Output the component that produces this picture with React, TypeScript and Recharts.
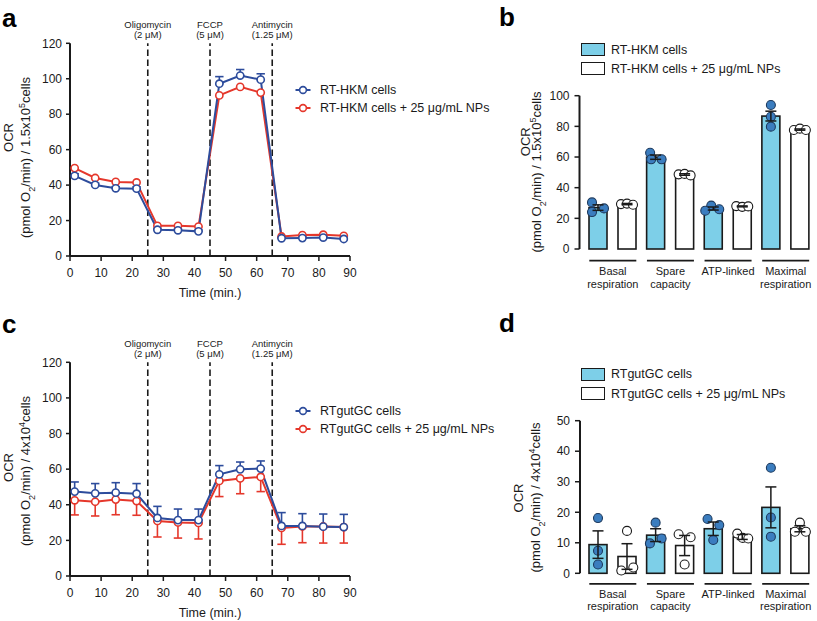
import React from 'react';
import { LineChart, Line, XAxis, YAxis, ReferenceLine, ErrorBar, Legend, BarChart, Bar } from 'recharts';

const FONT = '"Liberation Sans", Arial, Helvetica, sans-serif';
const LETTER_FONT = '"Liberation Sans", Arial, sans-serif';
const BLUE = '#2d4c9c';
const RED = '#e5372b';
const CYAN = '#7dcfe8';
const DOT_BLUE = '#3b7dbf';
const DOT_BLUE_EDGE = '#1d3a5e';
const INK = '#1a1a1a';

// ---------------- data ----------------
const timePoints = [1.5, 8.1, 14.7, 21.4, 28.1, 34.7, 41.3, 48.0, 54.7, 61.3, 68.0, 74.7, 81.4, 88.0];
const timeTicks = [0, 10, 20, 30, 40, 50, 60, 70, 80, 90];
const ocrTicks = [0, 20, 40, 60, 80, 100, 120];
const injectionTimes = [25, 45, 65];
const injectionNames = ['Oligomycin', 'FCCP', 'Antimycin'];
const injectionDoses = ['(2 \u03bcM)', '(5 \u03bcM)', '(1.25 \u03bcM)'];

const hkmLabels = ['RT-HKM cells', 'RT-HKM cells + 25 \u03bcg/mL NPs'];
const hkmCtrl = [45.2, 40.1, 38.2, 38.0, 14.8, 14.5, 13.9, 97.2, 101.8, 99.5, 10.0, 10.1, 10.4, 9.6];
const hkmCtrlSem = [1.2, 1.0, 0.9, 1.0, 0.8, 0.8, 0.8, 4.0, 3.4, 3.3, 0.6, 0.6, 0.7, 0.6];
const hkmNp = [49.6, 44.0, 41.8, 41.5, 17.0, 17.0, 16.6, 90.6, 95.4, 92.2, 11.0, 11.8, 12.0, 11.4];

const gutLabels = ['RTgutGC cells', 'RTgutGC cells + 25 \u03bcg/mL NPs'];
const gutCtrl = [47.4, 46.4, 46.8, 46.2, 32.6, 31.4, 31.4, 57.1, 59.9, 60.3, 28.1, 28.1, 27.7, 27.5];
const gutCtrlSem = [5.4, 5.5, 5.6, 5.7, 6.5, 6.2, 6.2, 4.9, 4.1, 4.3, 7.5, 6.9, 7.1, 7.1];
const gutNp = [42.5, 41.7, 42.9, 42.1, 30.9, 30.1, 29.8, 53.4, 54.8, 55.6, 27.0, 27.8, 27.8, 27.5];
const gutNpSem = [8.2, 8.0, 8.5, 8.0, 9.0, 8.8, 9.0, 8.8, 8.6, 8.2, 9.2, 9.1, 9.3, 9.0];

const paramLines = [['Basal', 'respiration'], ['Spare', 'capacity'], ['ATP-linked'], ['Maximal', 'respiration']];
const barTicksB = [0, 20, 40, 60, 80, 100];
const barTicksD = [0, 10, 20, 30, 40, 50];

const hkmBarCtrl = [27.0, 59.9, 26.4, 86.7];
const hkmBarCtrlSem = [1.8, 1.4, 1.0, 3.2];
const hkmBarNp = [29.3, 48.6, 27.8, 77.9];
const hkmBarNpSem = [0.4, 0.5, 0.3, 0.4];
const hkmRepCtrl = [[30.4, 24.1, 26.5], [62.8, 58.5, 58.5], [28.3, 25.0, 25.9], [93.9, 86.3, 79.8]];
const hkmRepNp = [[29.3, 29.6, 28.9], [48.7, 49.0, 48.0], [28.0, 27.5, 27.8], [77.6, 78.5, 77.6]];

const gutBarCtrl = [9.4, 12.5, 14.6, 21.6];
const gutBarCtrlSem = [4.5, 2.1, 2.2, 6.7];
const gutBarNp = [5.5, 9.1, 11.9, 14.6];
const gutBarNpSem = [4.2, 3.3, 0.8, 1.0];
const gutRepCtrl = [[18.1, 7.4, 2.9], [16.6, 9.8, 11.4], [17.8, 15.8, 10.9], [34.6, 18.3, 12.0]];
const gutRepNp = [[13.9, 0.9, 1.9], [12.8, 11.8, 2.9], [13.0, 11.6, 11.4], [16.6, 13.6, 13.6]];

// ---------------- style (horizontal jitter of replicate dots, px) ----------------
const jitterB_ctrl = [[-6, -6, 6], [-5.5, -4.5, 6], [-2, -8, 6], [0, 0, 0]];
const jitterB_np = [[-6, 0, 6], [-6, 0, 6], [-6, 0, 6], [-6, 0, 6]];
const jitterD_ctrl = [[0, 0, 0], [0, -5.7, 6], [-5.7, 6, 0], [0, 0, 0]];
const jitterD_np = [[0, -5.7, 6.3], [-6, 6, 0], [-5, 0.5, 6], [0, -5, 6]];

// ---------------- derived tables ----------------
const lineDataA = timePoints.map((t, i) => ({
  t,
  ctrl: hkmCtrl[i],
  ctrlErr: [0, hkmCtrlSem[i]],
  np: hkmNp[i],
}));
const lineDataC = timePoints.map((t, i) => ({
  t,
  ctrl: gutCtrl[i],
  ctrlErr: [0, gutCtrlSem[i]],
  np: gutNp[i],
  npErr: [gutNpSem[i], 0],
}));
const catNames = paramLines.map((l) => l.join(' '));
const barDataB = catNames.map((name, i) => ({
  name,
  ctrl: hkmBarCtrl[i],
  ctrlSem: hkmBarCtrlSem[i],
  np: hkmBarNp[i],
  npSem: hkmBarNpSem[i],
}));
const barDataD = catNames.map((name, i) => ({
  name,
  ctrl: gutBarCtrl[i],
  ctrlSem: gutBarCtrlSem[i],
  np: gutBarNp[i],
  npSem: gutBarNpSem[i],
}));

// ---------------- pieces ----------------
const YTitle = (props: any) => {
  const { ox, oy, lx, ly, mant, exp } = props;
  return (
    <g fontFamily={FONT} fill={INK} fontSize={13}>
      <text transform={`translate(${ox},${oy}) rotate(-90)`} textAnchor="middle">OCR</text>
      <text transform={`translate(${lx},${ly}) rotate(-90)`} textAnchor="middle">
        (pmol O<tspan fontSize={9} baselineShift="sub">2</tspan>/min) / {mant}
        <tspan fontSize={9} baselineShift="super">{exp}</tspan>cells
      </text>
    </g>
  );
};

const InjectionLabel = (props: any) => {
  const vb = props.viewBox || {};
  if (vb.x == null) return null;
  return (
    <g fontFamily={FONT} fontSize={9.5} fill={INK}>
      <text x={vb.x} y={vb.y - 15.5} textAnchor="middle">{props.name}</text>
      <text x={vb.x} y={vb.y - 5} textAnchor="middle">{props.dose}</text>
    </g>
  );
};

const LineLegend = ({ labels, rowH }: any) => (
  <div style={{ fontFamily: FONT, fontSize: 12.5, color: INK }}>
    {labels.map((lab: string, i: number) => {
      const c = i === 0 ? BLUE : RED;
      return (
        <div key={i} style={{ display: 'flex', alignItems: 'center', height: rowH }}>
          <svg width={17} height={10} style={{ display: 'block' }}>
            <line x1={0.5} y1={5} x2={15.5} y2={5} stroke={c} strokeWidth={2} />
            <circle cx={8} cy={5} r={3.4} fill="#fff" stroke={c} strokeWidth={1.6} />
          </svg>
          <span style={{ marginLeft: 8.5, whiteSpace: 'nowrap' }}>{lab}</span>
        </div>
      );
    })}
  </div>
);

const BoxLegend = ({ labels, rowH }: any) => (
  <div style={{ fontFamily: FONT, fontSize: 12.5, color: INK }}>
    {labels.map((lab: string, i: number) => (
      <div key={i} style={{ display: 'flex', alignItems: 'center', height: rowH }}>
        <div
          style={{
            width: 24.3,
            height: 13,
            boxSizing: 'border-box',
            border: `1.6px solid ${INK}`,
            background: i === 0 ? CYAN : '#fff',
          }}
        />
        <span style={{ marginLeft: 6, whiteSpace: 'nowrap' }}>{lab}</span>
      </div>
    ))}
  </div>
);

const makeBarShape = (means: number[], reps: number[][], jitter: number[][], fill: string, dotFill: string, dotEdge: string) =>
  (props: any) => {
    const { x, y, width, height, payload } = props;
    const idx = catNames.indexOf(payload.name);
    const ppu = height / means[idx];
    const base = y + height;
    return (
      <g>
        <rect x={x} y={y} width={width} height={height} fill={fill} stroke={INK} strokeWidth={1.6} />
        {reps[idx].map((r, k) => (
          <circle
            key={k}
            cx={x + width / 2 + jitter[idx][k]}
            cy={base - r * ppu}
            r={4.5}
            fill={dotFill}
            stroke={dotEdge}
            strokeWidth={1.1}
          />
        ))}
      </g>
    );
  };

const CategoryTick = (props: any) => {
  const { x, y, payload, rule, base, lh } = props;
  const lines = paramLines[catNames.indexOf(payload.value)] || [];
  return (
    <g>
      <line x1={x - 23.5} x2={x + 23.5} y1={y + rule} y2={y + rule} stroke={INK} strokeWidth={1.8} />
      {lines.map((l: string, k: number) => (
        <text key={k} x={x} y={y + base + k * lh} textAnchor="middle" fontFamily={FONT} fontSize={11} fill={INK}>
          {l}
        </text>
      ))}
    </g>
  );
};

const axisTick = { fontSize: 12, fill: INK, fontFamily: FONT };

function TimeCourse(p: any) {
  const { left, top, height, marginTop, xAxisHeight, data, labels, withNpErr, title, legendPos, legendRow } = p;
  return (
    <div style={{ position: 'absolute', left, top }}>
      <LineChart
        width={500}
        height={height}
        data={data}
        margin={{ top: marginTop, right: 150, bottom: 0, left: 0 }}
      >
        <XAxis
          dataKey="t"
          type="number"
          domain={[0, 90]}
          ticks={timeTicks}
          interval={0}
          height={xAxisHeight}
          tick={axisTick}
          tickSize={5}
          tickMargin={7}
          axisLine={{ stroke: INK, strokeWidth: 2 }}
          tickLine={{ stroke: INK, strokeWidth: 1.5 }}
          label={{ value: 'Time (min.)', position: 'insideTop', offset: 32, fontSize: 12.5, fill: INK, fontFamily: FONT }}
        />
        <YAxis
          type="number"
          domain={[0, 120]}
          ticks={ocrTicks}
          interval={0}
          width={70}
          tick={axisTick}
          tickSize={4}
          tickMargin={4}
          axisLine={{ stroke: INK, strokeWidth: 2 }}
          tickLine={{ stroke: INK, strokeWidth: 1.5 }}
          label={<YTitle {...title} />}
        />
        {injectionTimes.map((t, i) => (
          <ReferenceLine
            key={t}
            x={t}
            stroke={INK}
            strokeWidth={1.6}
            strokeDasharray="6.5 3.5"
            label={<InjectionLabel name={injectionNames[i]} dose={injectionDoses[i]} />}
          />
        ))}
        <Line type="linear" dataKey="np" stroke={RED} strokeWidth={2} dot={false} activeDot={false} isAnimationActive={false} legendType="none">
          {withNpErr ? <ErrorBar dataKey="npErr" direction="y" width={4.2} stroke={RED} strokeWidth={1.6} /> : null}
        </Line>
        <Line type="linear" dataKey="ctrl" stroke={BLUE} strokeWidth={2} dot={false} activeDot={false} isAnimationActive={false} legendType="none">
          <ErrorBar dataKey="ctrlErr" direction="y" width={4.2} stroke={BLUE} strokeWidth={1.6} />
        </Line>
        <Line
          type="linear"
          dataKey="np"
          stroke="none"
          dot={{ r: 3.6, fill: '#fff', stroke: RED, strokeWidth: 1.6 }}
          activeDot={false}
          isAnimationActive={false}
          legendType="none"
        />
        <Line
          type="linear"
          dataKey="ctrl"
          stroke="none"
          dot={{ r: 3.6, fill: '#fff', stroke: BLUE, strokeWidth: 1.6 }}
          activeDot={false}
          isAnimationActive={false}
          legendType="none"
        />
        <Legend
          layout="vertical"
          align="center"
          verticalAlign="middle"
          wrapperStyle={{ left: legendPos[0], top: legendPos[1], width: 220, height: 40 }}
          content={() => <LineLegend labels={labels} rowH={legendRow} />}
        />
      </LineChart>
    </div>
  );
}

function ParamBars(p: any) {
  const { left, top, height, marginTop, xAxisHeight, axisW, pad, data, means, reps, jit, npMeans, npReps, npJit, yMax, ticks, title, labels, legendPos, legendRow, tickCfg } = p;
  return (
    <div style={{ position: 'absolute', left, top }}>
      <BarChart
        width={337}
        height={height}
        data={data}
        margin={{ top: marginTop, right: 2.5, bottom: 0, left: 0 }}
        barSize={18}
        barGap={11}
      >
        <XAxis
          dataKey="name"
          type="category"
          interval={0}
          height={xAxisHeight}
          axisLine={false}
          tickLine={false}
          tickSize={0}
          tickMargin={0}
          padding={{ left: pad, right: 0 }}
          tick={(tp: any) => <CategoryTick {...tp} {...tickCfg} />}
        />
        <YAxis
          type="number"
          domain={[0, yMax]}
          ticks={ticks}
          interval={0}
          width={axisW}
          tick={axisTick}
          tickSize={5}
          tickMargin={5}
          axisLine={{ stroke: INK, strokeWidth: 2 }}
          tickLine={{ stroke: INK, strokeWidth: 1.5 }}
          label={<YTitle {...title} />}
        />
        <Bar dataKey="ctrl" isAnimationActive={false} shape={makeBarShape(means, reps, jit, CYAN, DOT_BLUE, DOT_BLUE_EDGE)}>
          <ErrorBar dataKey="ctrlSem" direction="y" width={5.5} stroke={INK} strokeWidth={1.5} />
        </Bar>
        <Bar dataKey="np" isAnimationActive={false} shape={makeBarShape(npMeans, npReps, npJit, '#fff', '#fff', INK)}>
          <ErrorBar dataKey="npSem" direction="y" width={5.5} stroke={INK} strokeWidth={1.5} />
        </Bar>
        <Legend
          layout="vertical"
          align="center"
          verticalAlign="middle"
          wrapperStyle={{ left: legendPos[0], top: legendPos[1], width: 236, height: 40 }}
          content={() => <BoxLegend labels={labels} rowH={legendRow} />}
        />
      </BarChart>
    </div>
  );
}

export default function App() {
  return (
    <div style={{ position: 'absolute', left: 0, top: 0, width: 817, height: 621, background: '#fff', overflow: 'hidden' }}>
      <TimeCourse
        left={0}
        top={0}
        height={300}
        marginTop={43.3}
        xAxisHeight={44}
        data={lineDataA}
        labels={hkmLabels}
        withNpErr={false}
        title={{ ox: 13.2, oy: 137.5, lx: 29.7, ly: 157.5, mant: '1.5x10', exp: '5' }}
        legendPos={[294.5, 81]}
        legendRow={18.3}
      />
      <TimeCourse
        left={0}
        top={300}
        height={321}
        marginTop={62.3}
        xAxisHeight={45}
        data={lineDataC}
        labels={gutLabels}
        withNpErr={true}
        title={{ ox: 13.2, oy: 167.5, lx: 29.7, ly: 171, mant: '4x10', exp: '4' }}
        legendPos={[294.5, 101.7]}
        legendRow={18}
      />
      <ParamBars
        left={480}
        top={0}
        height={300}
        marginTop={95.7}
        xAxisHeight={51}
        axisW={99.5}
        pad={4.5}
        data={barDataB}
        means={hkmBarCtrl}
        reps={hkmRepCtrl}
        jit={jitterB_ctrl}
        npMeans={hkmBarNp}
        npReps={hkmRepNp}
        npJit={jitterB_np}
        yMax={100}
        ticks={barTicksB}
        title={{ ox: 49.7, oy: 141.7, lx: 61.3, ly: 172, mant: '1.5x10', exp: '5' }}
        labels={hkmLabels}
        legendPos={[100.7, 40.3]}
        legendRow={19}
        tickCfg={{ rule: 11.7, base: 26, lh: 12.5 }}
      />
      <ParamBars
        left={480}
        top={300}
        height={321}
        marginTop={120.7}
        xAxisHeight={47.7}
        axisW={100}
        pad={4}
        data={barDataD}
        means={gutBarCtrl}
        reps={gutRepCtrl}
        jit={jitterD_ctrl}
        npMeans={gutBarNp}
        npReps={gutRepNp}
        npJit={jitterD_np}
        yMax={50}
        ticks={barTicksD}
        title={{ ox: 42.7, oy: 198, lx: 59.7, ly: 197.5, mant: '4x10', exp: '4' }}
        labels={gutLabels}
        legendPos={[100.7, 64.7]}
        legendRow={19.5}
        tickCfg={{ rule: 10.5, base: 24.5, lh: 12.5 }}
      />
      <svg width={817} height={621} style={{ position: 'absolute', left: 0, top: 0, pointerEvents: 'none' }}>
        <g fontFamily={LETTER_FONT} fontWeight={700} fontSize={26} fill="#000">
          <text x={2} y={26.7}>a</text>
          <text x={499} y={25.5}>b</text>
          <text x={2} y={333.3}>c</text>
          <text x={499} y={332}>d</text>
        </g>
      </svg>
    </div>
  );
}
